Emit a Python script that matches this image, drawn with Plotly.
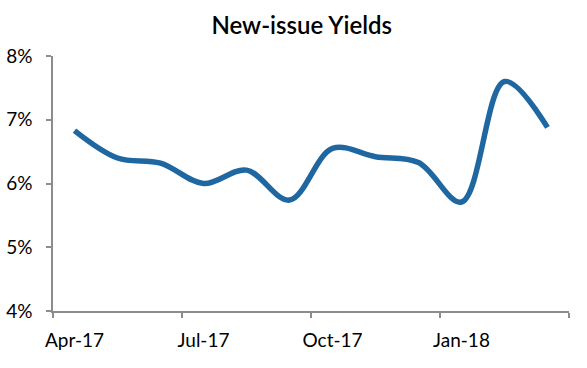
import plotly.graph_objects as go

months = ["Apr-17", "May-17", "Jun-17", "Jul-17", "Aug-17", "Sep-17",
          "Oct-17", "Nov-17", "Dec-17", "Jan-18", "Feb-18", "Mar-18"]
yields = [6.83, 6.40, 6.32, 6.00, 6.21, 5.74, 6.55, 6.42, 6.33, 5.71, 7.60, 6.88]
label_months = ["Apr-17", "Jul-17", "Oct-17", "Jan-18"]
y_ticks = [4, 5, 6, 7, 8]

xs = list(range(len(months)))
label_pos = [months.index(m) for m in label_months]
boundaries = [p - 0.5 for p in label_pos] + [len(months) - 0.5]

FONT = "Lato"
fig = go.Figure()
fig.add_trace(go.Scatter(
    x=xs, y=yields, mode="lines",
    line=dict(color="#1F67A0", width=5.5, shape="spline", smoothing=1.0),
    hoverinfo="skip", showlegend=False,
))
fig.update_layout(
    width=587, height=368,
    margin=dict(l=53, r=18, t=56, b=57),
    paper_bgcolor="white", plot_bgcolor="white",
    title=dict(text="New-issue Yields", x=0.514, xanchor="center", y=0.93, yanchor="middle",
               font=dict(family=FONT, size=24, color="black", weight=600)),
    font=dict(family=FONT, size=19, color="black"),
)
fig.update_xaxes(
    range=[-0.5, len(months) - 0.5], automargin=False,
    tickmode="array", tickvals=label_pos, ticktext=label_months,
    ticks="", showline=True, linecolor="#8C8C8C", linewidth=1.5,
    showgrid=False, zeroline=False, ticklabelstandoff=11,
    minor=dict(tickmode="array", tickvals=boundaries, ticks="outside",
               ticklen=5, tickcolor="#8C8C8C", tickwidth=1.5, showgrid=False),
    tickfont=dict(family=FONT, size=19, color="black"),
)
fig.update_yaxes(
    range=[4, 8], automargin=False, tickmode="array", tickvals=y_ticks,
    ticktext=[f"{v}%" for v in y_ticks],
    ticks="outside", ticklen=5, tickcolor="#8C8C8C", tickwidth=1.5,
    showline=True, linecolor="#8C8C8C", linewidth=1.5,
    showgrid=False, zeroline=False, ticklabelstandoff=10,
    tickfont=dict(family=FONT, size=19, color="black"),
)
fig.write_html("out.html", config={"displayModeBar": False},
               post_script="document.body.style.margin='0';")
